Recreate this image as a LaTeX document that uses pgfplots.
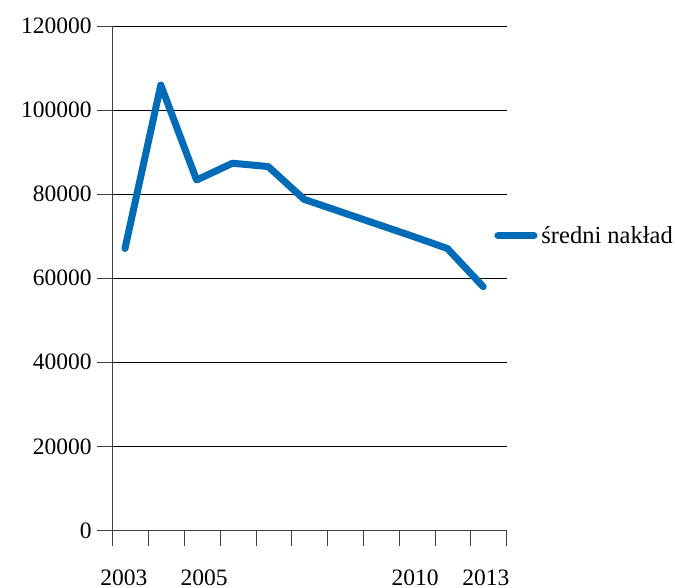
\documentclass[border=0pt]{standalone}
\usepackage{fontspec}
\setmainfont{Liberation Serif}
\usepackage{pgfplots}
\pgfplotsset{compat=1.18}
\definecolor{nakladblue}{RGB}{0,108,183}
\newcommand{\ticksize}{\fontsize{23.5}{27}\selectfont}
\begin{document}
\begin{tikzpicture}
\useasboundingbox (0pt,0pt) rectangle (675pt,587pt);
\begin{axis}[
    scale only axis,
    width=394pt, height=504pt,
    at={(112.7pt,56.7pt)}, anchor=south west,
    xmin=0, xmax=11, ymin=0, ymax=120000,
    axis x line=bottom, axis y line=left,
    axis line style={-, draw=black!75, line width=0.9pt},
    tick align=outside,
    major tick length=16pt,
    tick style={draw=black!75, line width=0.9pt},
    xtick={0,1,...,11}, xticklabels={},
    ytick={0,20000,...,120000},
    scaled y ticks=false,
    yticklabels={0,20000,40000,60000,80000,100000,120000},
    yticklabel style={font=\ticksize, xshift=-1.5pt},
    ymajorgrids,
    grid style={black, line width=0.9pt},
    extra x ticks={0.315,2.55,8.44,10.42},
    extra x tick labels={2003,2005,2010,2013},
    extra x tick style={major tick length=0pt, grid=none,
      xticklabel style={yshift=-36pt}},
    xticklabel style={font=\ticksize},
    /pgf/number format/assume math mode=true,
    clip=false,
    legend style={draw=none, fill=none, at={(0.960,0.5845)}, anchor=west,
      inner sep=0pt, outer sep=0pt,
      font=\fontsize{24.5}{28}\selectfont,
      nodes={inner sep=0.5pt}},
    legend image code/.code={
      \path (0pt,0pt) (43pt,0pt);
      \draw[#1] (3.5pt,0pt) -- (39.5pt,0pt);},
  ]
  \addplot[nakladblue, line width=7pt, line cap=round, line join=round, mark=none]
    coordinates {
      (0.343,67100)
      (1.343,106000)
      (2.343,83400)
      (3.343,87400)
      (4.343,86600)
      (5.343,78800)
      (6.343,75900)
      (7.343,73000)
      (8.343,70100)
      (9.343,67100)
      (10.343,58000)
    };
  \legend{średni nakład}
\end{axis}
\end{tikzpicture}
\end{document}
